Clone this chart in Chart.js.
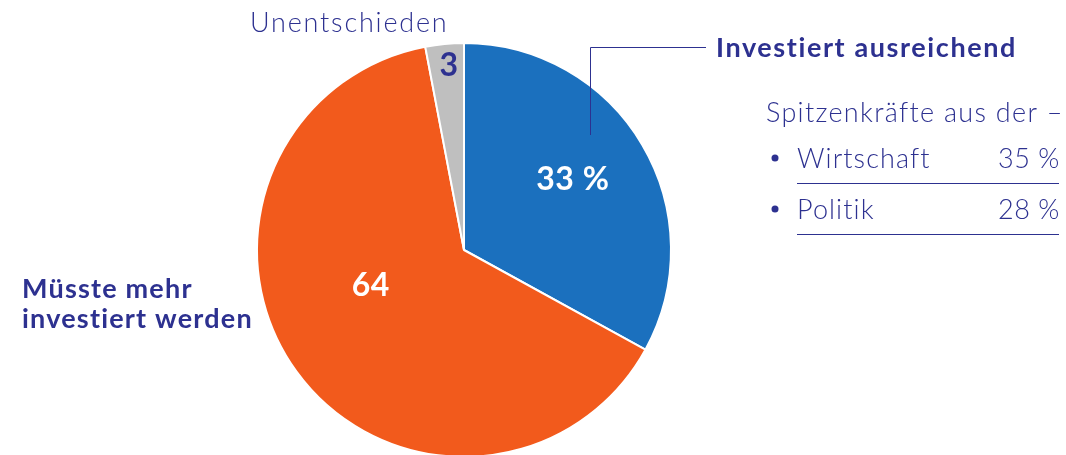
<!DOCTYPE html>
<html>
<head>
<meta charset="utf-8">
<script src="https://cdn.jsdelivr.net/npm/chart.js@4"></script>
<style>
  html, body { margin: 0; padding: 0; background: #fff; overflow: hidden; }
  #wrap { width: 1066px; height: 500px; }
</style>
</head>
<body>
<div id="wrap"><canvas id="pie" width="1066" height="500"></canvas></div>
<script>
// Chart data
const categories = ['Investiert ausreichend', 'Müsste mehr investiert werden', 'Unentschieden'];
const shares = [33, 64, 3];
const sliceLabels = ['33 %', '64', '3'];

// Breakdown shown to the right
const groupTitle = 'Spitzenkräfte aus der –';
const groups = ['Wirtschaft', 'Politik'];
const groupShares = [35, 28];

const navy = '#2d3190';
const colors = ['#1b70be', '#f25a1c', '#bfbfbf'];
const font = 'Lato, "Open Sans", sans-serif';

// Draws the in-slice numbers, callouts and the side table
const annotations = {
    id: 'annotations',
    afterDraw(chart) {
        const ctx = chart.ctx;
        const arcs = chart.getDatasetMeta(0).data;
        // placement of each slice number: [radius fraction, angle shift in deg]
        const placement = [[0.63, -2.8], [0.48, 15.6], [0.9, 0.8]];
        const textColor = ['#fff', '#fff', navy];

        ctx.save();
        ctx.textAlign = 'center';
        ctx.textBaseline = 'middle';
        ctx.font = 'bold 32px ' + font;
        ctx.letterSpacing = '0.5px';
        arcs.forEach((arc, i) => {
            const p = arc.getProps(['x', 'y', 'startAngle', 'endAngle', 'outerRadius'], true);
            const a = (p.startAngle + p.endAngle) / 2 + placement[i][1] * Math.PI / 180;
            const r = p.outerRadius * placement[i][0];
            ctx.fillStyle = textColor[i];
            ctx.fillText(sliceLabels[i], p.x + Math.cos(a) * r, p.y + Math.sin(a) * r + 1);
        });

        const c = arcs[0].getProps(['x', 'y', 'outerRadius'], true);
        ctx.textAlign = 'left';
        ctx.textBaseline = 'alphabetic';

        // Unentschieden
        ctx.fillStyle = navy;
        ctx.font = '300 27px ' + font;
        ctx.letterSpacing = '1.8px';
        ctx.fillText(categories[2], c.x - 214, 32);

        // Investiert ausreichend + leader line
        ctx.strokeStyle = navy;
        ctx.lineWidth = 1;
        ctx.beginPath();
        ctx.moveTo(c.x + 126.5, 135);
        ctx.lineTo(c.x + 126.5, 47.5);
        ctx.lineTo(c.x + 242, 47.5);
        ctx.stroke();
        ctx.font = 'bold 27px ' + font;
        ctx.letterSpacing = '1.6px';
        ctx.fillText(categories[0], 716, 57);

        // Müsste mehr investiert werden
        ctx.letterSpacing = '1.2px';
        ctx.fillText('Müsste mehr', 22, 298);
        ctx.fillText('investiert werden', 22, 328);

        // side table
        ctx.font = '300 27px ' + font;
        ctx.letterSpacing = '1.3px';
        ctx.fillText(groupTitle, 766, 122);
        groups.forEach((g, i) => {
            const base = 168 + i * 51;
            ctx.textAlign = 'left';
            ctx.letterSpacing = '1.1px';
            ctx.fillText(g, 797, base);
            ctx.textAlign = 'right';
            ctx.letterSpacing = '0.6px';
            ctx.fillText(groupShares[i] + ' %', 1060, base);
            ctx.beginPath();
            ctx.arc(775, base - 10, 3.5, 0, Math.PI * 2);
            ctx.fill();
            ctx.beginPath();
            ctx.moveTo(797, base + 15.5);
            ctx.lineTo(1059, base + 15.5);
            ctx.stroke();
        });
        ctx.restore();
    }
};

const ctx = document.getElementById('pie').getContext('2d');
new Chart(ctx, {
    type: 'pie',
    data: {
        labels: categories,
        datasets: [{
            data: shares,
            backgroundColor: colors,
            borderColor: '#fff',
            borderWidth: 2
        }]
    },
    options: {
        responsive: false,
        animation: false,
        devicePixelRatio: 1,
        layout: { padding: { left: 256, right: 394, top: 42, bottom: 42 } },
        plugins: {
            legend: { display: false },
            tooltip: { enabled: false }
        }
    },
    plugins: [annotations]
});
</script>
</body>
</html>
